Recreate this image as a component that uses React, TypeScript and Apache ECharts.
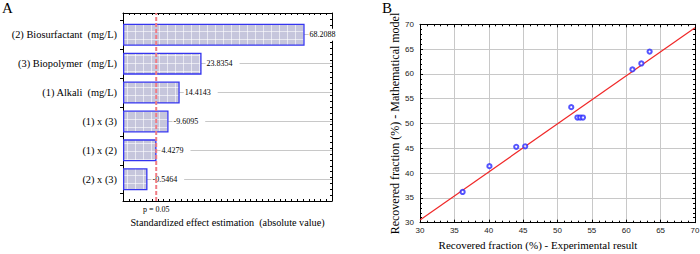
import React, { useEffect, useRef } from "react";
import * as echarts from "echarts";

// Panel A: Pareto chart of standardized effects
const factors = [
  "(2) Biosurfactant  (mg/L)",
  "(3) Biopolymer  (mg/L)",
  "(1) Alkali  (mg/L)",
  "(1) x (3)",
  "(1) x (2)",
  "(2) x (3)",
];
const effects = [68.2088, 23.8354, 14.4143, -9.6095, 4.4279, -0.5464];
// critical t value, p = 0.05 (df = 2)
const pLimit = 4.303;

// Panel B: model vs experiment
const experimental = [36.2, 40.1, 44.0, 45.3, 52.0, 52.9, 53.3, 53.7, 60.9, 62.2, 63.4];
const predicted = [36.2, 41.4, 45.3, 45.4, 53.3, 51.2, 51.2, 51.2, 60.9, 62.1, 64.5];
const fitX = [30, 70];
const fitY = [30.55, 69.3];

const SERIF = "Liberation Serif";
const SANS = "Liberation Sans";

function makeBarPattern() {
  const c = document.createElement("canvas");
  c.width = 8;
  c.height = 8;
  const ctx = c.getContext("2d")!;
  ctx.fillStyle = "#c6c6dc";
  ctx.fillRect(0, 0, 8, 8);
  ctx.fillStyle = "rgba(255,255,255,0.6)";
  ctx.fillRect(7, 0, 1, 8);
  ctx.fillRect(0, 7, 8, 1);
  return { image: c.toDataURL(), repeat: "repeat", imageWidth: 8, imageHeight: 8 };
}

const frameLine = { show: true, onZero: false, lineStyle: { color: "#000", width: 1 } };

export default function App() {
  const ref = useRef<HTMLDivElement>(null);

  useEffect(() => {
    if (!ref.current) return;
    const chart = echarts.init(ref.current, null, { renderer: "svg" });
    const pattern = makeBarPattern();

    const option: any = {
      animation: false,
      backgroundColor: "#fff",
      graphic: [
        { type: "text", left: 2, top: 0, style: { text: "A", font: `15px ${SERIF}`, fill: "#000" } },
        { type: "text", left: 382, top: 0, style: { text: "B", font: `15px ${SERIF}`, fill: "#000" } },
      ],
      grid: [
        { left: 123, top: 20.3, width: 209, height: 173.4, outerBoundsMode: "none" },
        { left: 123, top: 13, width: 209, height: 188, outerBoundsMode: "none" },
        { left: 420, top: 24.3, width: 275, height: 198.4, outerBoundsMode: "none" },
      ],
      xAxis: [
        { gridIndex: 0, type: "value", min: -10, max: 80, startValue: -10, show: false },
        {
          gridIndex: 1,
          type: "value",
          min: -10,
          max: 80,
          interval: 10,
          position: "bottom",
          axisLine: frameLine,
          axisTick: { show: true, inside: true, length: 2, lineStyle: { color: "#000" } },
          minorTick: { show: true, splitNumber: 4, length: 2, lineStyle: { color: "#000" } },
          splitLine: { show: false },
          axisLabel: {
            customValues: [pLimit],
            formatter: () => "p = 0.05",
            fontSize: 8,
            fontFamily: SERIF,
            color: "#000",
            margin: 4,
          },
          name: "Standardized effect estimation  (absolute value)",
          nameLocation: "middle",
          nameGap: 16,
          nameTextStyle: { fontSize: 10.2, fontFamily: SERIF, color: "#000" },
        },
        {
          gridIndex: 1,
          type: "value",
          min: -10,
          max: 80,
          interval: 10,
          position: "top",
          axisLine: frameLine,
          axisTick: { show: true, inside: true, length: 2, lineStyle: { color: "#000" } },
          minorTick: { show: true, splitNumber: 4, length: 2, lineStyle: { color: "#000" } },
          splitLine: { show: false },
          axisLabel: { show: false },
        },
        {
          gridIndex: 2,
          type: "value",
          min: 30,
          max: 70,
          interval: 5,
          position: "bottom",
          axisLine: frameLine,
          axisTick: { show: true, inside: true, length: 3, lineStyle: { color: "#000" } },
          minorTick: { show: true, splitNumber: 5, length: 2, lineStyle: { color: "#000" } },
          splitLine: { show: true, lineStyle: { color: "#c8c8c8", width: 1 } },
          axisLabel: { fontSize: 8, fontFamily: SANS, color: "#222", margin: 4 },
          name: "Recovered fraction (%) - Experimental result",
          nameLocation: "middle",
          nameGap: 17,
          nameTextStyle: {
            fontSize: 11,
            fontFamily: SERIF,
            color: "#000",
            padding: [0, 39, 0, 0],
          },
        },
        {
          gridIndex: 2,
          type: "value",
          min: 30,
          max: 70,
          interval: 5,
          position: "top",
          axisLine: frameLine,
          axisTick: { show: true, inside: true, length: 3, lineStyle: { color: "#000" } },
          minorTick: { show: true, splitNumber: 5, length: 2, lineStyle: { color: "#000" } },
          splitLine: { show: false },
          axisLabel: { show: false },
        },
      ],
      yAxis: [
        {
          gridIndex: 0,
          type: "category",
          data: factors,
          inverse: true,
          axisLine: { show: false, onZero: false },
          axisTick: { show: true, length: 3, lineStyle: { color: "#000" } },
          axisLabel: { fontSize: 10.4, fontFamily: SERIF, color: "#000", margin: 6 },
          splitLine: { show: true, alignWithLabel: true, lineStyle: { color: "#c8c8c8", width: 1 } },
        },
        {
          gridIndex: 1,
          type: "value",
          min: 0,
          max: 1,
          position: "left",
          axisLine: frameLine,
          axisTick: { show: false },
          axisLabel: { show: false },
          splitLine: { show: false },
        },
        {
          gridIndex: 1,
          type: "value",
          min: 0,
          max: 1,
          interval: 0.125,
          position: "right",
          axisLine: frameLine,
          axisTick: { show: true, inside: true, length: 2, lineStyle: { color: "#000" } },
          minorTick: { show: true, splitNumber: 4, length: 2, lineStyle: { color: "#000" } },
          axisLabel: { show: false },
          splitLine: { show: false },
        },
        {
          gridIndex: 2,
          type: "value",
          min: 30,
          max: 70,
          interval: 5,
          position: "left",
          axisLine: frameLine,
          axisTick: { show: true, inside: true, length: 3, lineStyle: { color: "#000" } },
          minorTick: { show: true, splitNumber: 5, length: 2, lineStyle: { color: "#000" } },
          splitLine: { show: true, lineStyle: { color: "#c8c8c8", width: 1 } },
          axisLabel: { fontSize: 8, fontFamily: SANS, color: "#222", margin: 6 },
          name: "Recovered fraction (%) - Mathematical model",
          nameLocation: "middle",
          nameGap: 17,
          nameTextStyle: { fontSize: 12, fontFamily: SERIF, color: "#000" },
        },
        {
          gridIndex: 2,
          type: "value",
          min: 30,
          max: 70,
          interval: 5,
          position: "right",
          axisLine: frameLine,
          axisTick: { show: true, inside: true, length: 3, lineStyle: { color: "#000" } },
          minorTick: { show: true, splitNumber: 5, length: 2, lineStyle: { color: "#000" } },
          axisLabel: { show: false },
          splitLine: { show: false },
        },
      ],
      series: [
        {
          type: "bar",
          xAxisIndex: 0,
          yAxisIndex: 0,
          data: effects.map((v) => Math.abs(v)),
          barWidth: 22,
          z: 3,
          itemStyle: { color: pattern, borderColor: "#3535f0", borderWidth: 1.3 },
          label: {
            show: true,
            position: "right",
            distance: 4,
            formatter: (p: any) => effects[p.dataIndex].toFixed(4),
            fontSize: 8,
            fontFamily: SERIF,
            color: "#000",
            backgroundColor: "#fff",
            padding: [2, 7, 2, 1],
          },
        },
        {
          type: "line",
          xAxisIndex: 1,
          yAxisIndex: 1,
          data: [
            [pLimit, 0],
            [pLimit, 1],
          ],
          showSymbol: false,
          silent: true,
          z: 6,
          lineStyle: { color: "#f07c84", width: 2, type: [4, 2] },
        },
        {
          type: "line",
          xAxisIndex: 3,
          yAxisIndex: 3,
          data: fitX.map((x, i) => [x, fitY[i]]),
          showSymbol: false,
          silent: true,
          z: 3,
          lineStyle: { color: "#f02828", width: 1.2 },
        },
        {
          type: "scatter",
          xAxisIndex: 3,
          yAxisIndex: 3,
          data: experimental.map((x, i) => [x, predicted[i]]),
          symbol: "emptyCircle",
          symbolSize: 4.2,
          z: 4,
          itemStyle: { color: "#2b2bff", borderWidth: 0.9 },
        },
      ],
    };

    chart.setOption(option);
    return () => chart.dispose();
  }, []);

  return (
    <div
      ref={ref}
      style={{ position: "fixed", left: 0, top: 0, width: 700, height: 254, background: "#fff" }}
    />
  );
}
